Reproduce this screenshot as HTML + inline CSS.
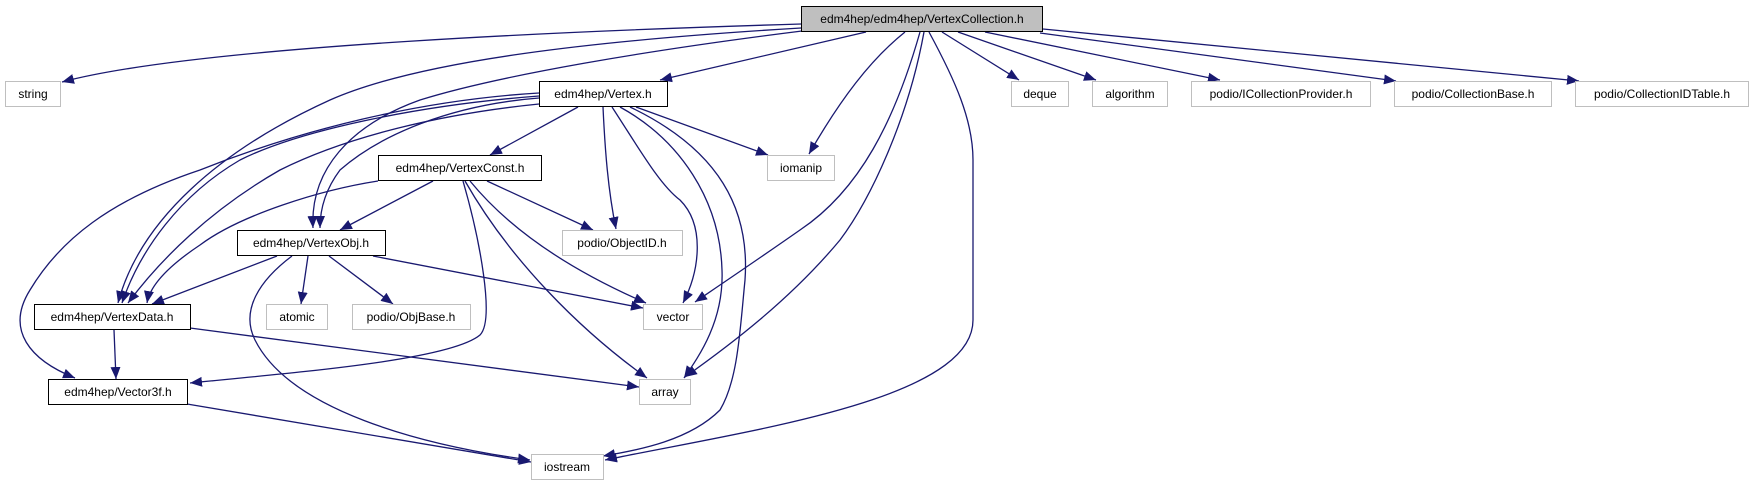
<!DOCTYPE html>
<html><head><meta charset="utf-8"><style>
html,body{margin:0;padding:0;background:#fff;}
svg{display:block;}
text{font-family:"Liberation Sans",Arial,sans-serif;font-size:12px;fill:#000;}
</style></head><body>
<svg width="1752" height="485" viewBox="0 0 1752 485" xmlns="http://www.w3.org/2000/svg">
<defs>
<marker id="a" markerUnits="userSpaceOnUse" markerWidth="14" markerHeight="12" refX="12" refY="5" orient="auto">
<path d="M0,0 L12,5 L0,10 Z" fill="#191970"/>
</marker>
</defs>
<g fill="none" stroke="#191970" stroke-width="1.3" marker-end="url(#a)">
<path d="M801,24 C600,30 200,45 62,82"/>
<path d="M801,28 C600,40 420,60 330,100 C220,150 140,220 118,303"/>
<path d="M802,31 C650,50 500,75 420,100 C350,125 310,170 313,228"/>
<path d="M866,32 L660,80"/>
<path d="M905,32 C870,60 840,100 809,154"/>
<path d="M920,32 C895,120 860,190 800,230 C760,258 720,285 695,302"/>
<path d="M924,32 C908,120 870,200 840,240 C790,300 730,345 685,377"/>
<path d="M929,32 C955,80 973,120 973,160 L973,320 C973,400 750,430 605,460"/>
<path d="M942,32 L1019,80"/>
<path d="M958,32 L1096,80"/>
<path d="M985,32 L1220,80"/>
<path d="M1040,33 L1396,81"/>
<path d="M1043,29 L1579,81"/>
<path d="M578,107 L490,155"/>
<path d="M603,107 C605,150 608,190 616,229"/>
<path d="M612,107 C640,150 660,185 680,200 C705,225 700,270 683,303"/>
<path d="M620,107 C680,140 720,200 722,270 C724,320 700,355 684,378"/>
<path d="M630,107 C720,150 750,210 745,280 C740,330 738,380 720,410 C690,440 640,450 603,456"/>
<path d="M636,107 L768,155"/>
<path d="M539,98 C450,105 380,135 340,170 C325,190 320,210 320,228"/>
<path d="M539,96 C420,105 300,130 240,160 C180,195 140,250 122,303"/>
<path d="M539,104 C430,115 340,140 280,170 C210,210 160,260 128,303"/>
<path d="M539,93 C420,100 300,130 200,170 C110,200 60,240 30,290 C5,330 30,360 75,378"/>
<path d="M433,181 L340,230"/>
<path d="M378,181 C320,190 240,215 200,245 C170,265 150,285 147,303"/>
<path d="M463,181 C480,240 495,320 480,335 C450,360 300,372 190,383"/>
<path d="M487,181 L593,230"/>
<path d="M470,181 C510,230 570,270 646,303"/>
<path d="M465,181 C510,260 580,330 647,378"/>
<path d="M277,256 L152,304"/>
<path d="M308,256 L301,304"/>
<path d="M329,256 L393,304"/>
<path d="M373,256 L643,308"/>
<path d="M292,256 C260,280 240,310 255,340 C290,410 420,445 530,460"/>
<path d="M114,330 L116,379"/>
<path d="M190,328 L639,387"/>
<path d="M187,404 L531,462"/>
</g>
<g stroke-width="1">
<rect x="801.5" y="6.5" width="241" height="25" fill="#bfbfbf" stroke="#000"/>
<rect x="5.5" y="81.5" width="55" height="25" fill="#fff" stroke="#bfbfbf"/>
<rect x="539.5" y="81.5" width="128" height="25" fill="#fff" stroke="#000"/>
<rect x="1011.5" y="81.5" width="57" height="25" fill="#fff" stroke="#bfbfbf"/>
<rect x="1092.5" y="81.5" width="75" height="25" fill="#fff" stroke="#bfbfbf"/>
<rect x="1191.5" y="81.5" width="179" height="25" fill="#fff" stroke="#bfbfbf"/>
<rect x="1394.5" y="81.5" width="157" height="25" fill="#fff" stroke="#bfbfbf"/>
<rect x="1575.5" y="81.5" width="173" height="25" fill="#fff" stroke="#bfbfbf"/>
<rect x="378.5" y="155.5" width="163" height="25" fill="#fff" stroke="#000"/>
<rect x="767.5" y="155.5" width="67" height="25" fill="#fff" stroke="#bfbfbf"/>
<rect x="237.5" y="230.5" width="148" height="25" fill="#fff" stroke="#000"/>
<rect x="562.5" y="230.5" width="120" height="25" fill="#fff" stroke="#bfbfbf"/>
<rect x="34.5" y="304.5" width="156" height="25" fill="#fff" stroke="#000"/>
<rect x="266.5" y="304.5" width="61" height="25" fill="#fff" stroke="#bfbfbf"/>
<rect x="352.5" y="304.5" width="118" height="25" fill="#fff" stroke="#bfbfbf"/>
<rect x="643.5" y="304.5" width="59" height="25" fill="#fff" stroke="#bfbfbf"/>
<rect x="48.5" y="379.5" width="139" height="25" fill="#fff" stroke="#000"/>
<rect x="639.5" y="379.5" width="51" height="25" fill="#fff" stroke="#bfbfbf"/>
<rect x="531.5" y="454.5" width="72" height="25" fill="#fff" stroke="#bfbfbf"/>
</g>
<g text-anchor="middle">
<text x="922" y="23">edm4hep/edm4hep/VertexCollection.h</text>
<text x="33" y="98">string</text>
<text x="603" y="98">edm4hep/Vertex.h</text>
<text x="1040" y="98">deque</text>
<text x="1130" y="98">algorithm</text>
<text x="1281" y="98">podio/ICollectionProvider.h</text>
<text x="1473" y="98">podio/CollectionBase.h</text>
<text x="1662" y="98">podio/CollectionIDTable.h</text>
<text x="460" y="172">edm4hep/VertexConst.h</text>
<text x="801" y="172">iomanip</text>
<text x="311" y="247">edm4hep/VertexObj.h</text>
<text x="622" y="247">podio/ObjectID.h</text>
<text x="112" y="321">edm4hep/VertexData.h</text>
<text x="297" y="321">atomic</text>
<text x="411" y="321">podio/ObjBase.h</text>
<text x="673" y="321">vector</text>
<text x="118" y="396">edm4hep/Vector3f.h</text>
<text x="665" y="396">array</text>
<text x="567" y="471">iostream</text>
</g>
</svg>
</body></html>
